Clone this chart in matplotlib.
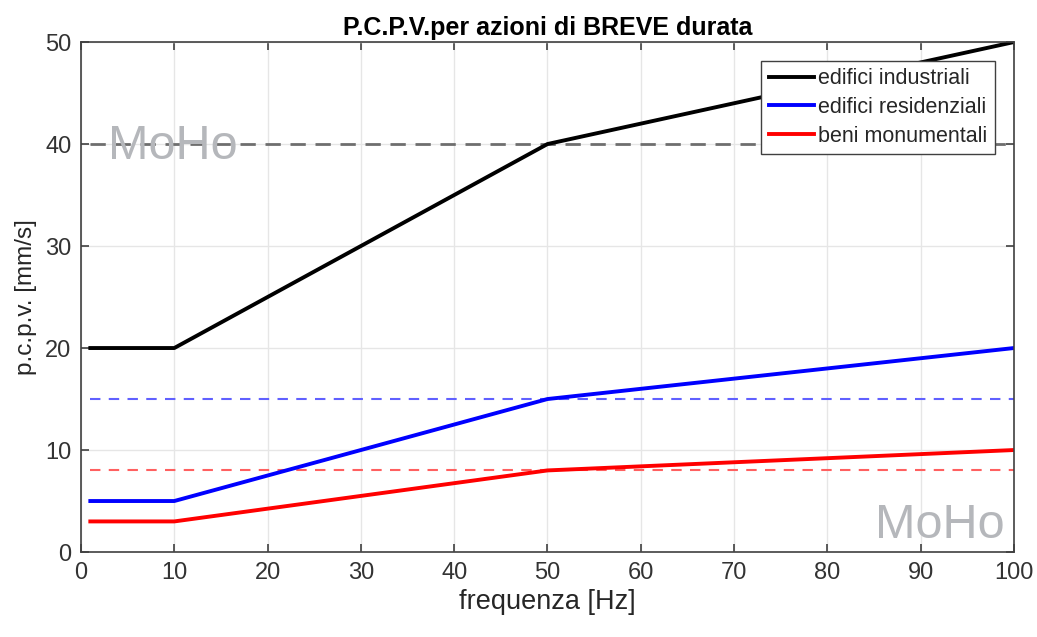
import matplotlib
matplotlib.use("Agg")
import matplotlib.pyplot as plt

freq = [1, 10, 50, 100]
industriali = [20, 20, 40, 50]
residenziali = [5, 5, 15, 20]
monumentali = [3, 3, 8, 10]
limits_x = [1, 100]
lim_ind = [40, 40]
lim_res = [15, 15]
lim_mon = [8, 8]
xticks = list(range(0, 101, 10))
yticks = list(range(0, 51, 10))

plt.rcParams['font.family'] = ['Liberation Sans', 'DejaVu Sans']

fig = plt.figure(figsize=(10.37, 6.37), dpi=100)
ax = fig.add_axes([0.0781, 0.1334, 0.8997, 0.8006])

ax.plot(limits_x, lim_ind, '--', color='#6e6e6e', lw=2, dashes=(5.5, 3.5))
ax.plot(limits_x, lim_res, '--', color='#6060ff', lw=1.5, dashes=(5, 4))
ax.plot(limits_x, lim_mon, '--', color='#ff6060', lw=1.5, dashes=(5, 4))
l1, = ax.plot(freq, industriali, color='black', lw=2.8, label='edifici industriali')
l2, = ax.plot(freq, residenziali, color='#0000ff', lw=2.8, label='edifici residenziali')
l3, = ax.plot(freq, monumentali, color='#ff0000', lw=2.8, label='beni monumentali')

ax.set_xlim(0, 100)
ax.set_ylim(0, 50)
ax.set_xticks(xticks)
ax.set_yticks(yticks)
ax.grid(True, color='#e6e6e6', lw=1)
ax.set_axisbelow(True)
for s in ax.spines.values():
    s.set_color('#404040')
    s.set_linewidth(1.2)
ax.tick_params(direction='in', length=6, width=1.2, colors='#404040',
               labelsize=17, labelcolor='#333333', top=True, right=True,
               labeltop=False, labelright=False, pad=7)

ax.set_xlabel('frequenza [Hz]', fontsize=19.5, color='#262626', labelpad=4)
ax.set_ylabel('p.c.p.v. [mm/s]', fontsize=17.5, color='#262626', labelpad=6)
ax.set_title('P.C.P.V.per azioni di BREVE durata', fontsize=18, fontweight='bold', pad=5)

leg = ax.legend(handles=[l1, l2, l3], loc='upper right', bbox_to_anchor=(0.9796, 0.963),
                fontsize=15.5, frameon=True, fancybox=False, edgecolor='#404040',
                framealpha=1.0, facecolor='white',
                handlelength=2.1, handletextpad=0.2, borderpad=0.35, labelspacing=0.35,
                borderaxespad=0.0)
leg.get_frame().set_linewidth(1.0)
for t in leg.get_texts():
    t.set_color('#262626')

fig.text(108 / 1037, 1 - 159 / 637, 'MoHo', fontsize=35, color='#b5b7bb', ha='left', va='baseline')
fig.text(1005 / 1037, 1 - 538 / 637, 'MoHo', fontsize=35, color='#b5b7bb', ha='right', va='baseline')

fig.savefig('out.png', dpi=100)
